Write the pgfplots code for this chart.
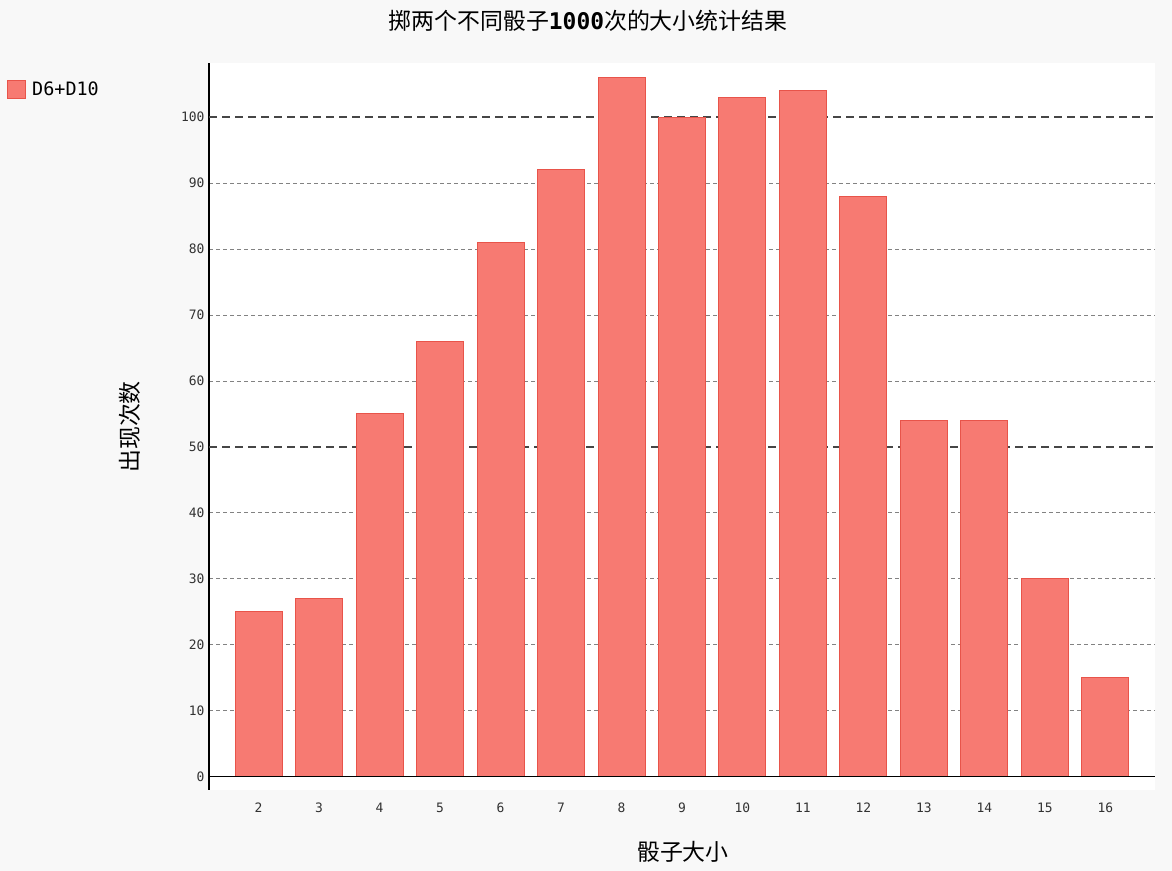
\documentclass[border=0pt]{standalone}
\usepackage{pgfplots}
\pgfplotsset{compat=1.18}
\usepackage{fontspec}
\newfontfamily\cjk{Noto Sans CJK SC}
\newfontfamily\mono{DejaVu Sans Mono}

\definecolor{bg}{RGB}{248,248,248}
\definecolor{barfill}{RGB}{247,122,114}
\definecolor{barline}{RGB}{232,84,74}
\definecolor{majgrid}{RGB}{70,70,70}
\definecolor{mingrid}{RGB}{130,130,130}
\definecolor{ticktext}{RGB}{50,50,50}

\begin{document}
\begin{tikzpicture}[x=1bp,y=1bp]
\fill[bg] (0,0) rectangle (1172,871);
\useasboundingbox (0,0) rectangle (1172,871);
\begin{axis}[
  at={(209bp,81bp)}, anchor=south west,
  scale only axis, width=946bp, height=727bp,
  xmin=1.18, xmax=16.82, ymin=-2, ymax=108.2,
  axis background/.style={fill=white},
  axis lines*=left,
  x axis line style={draw=none},
  y axis line style={black, line width=1.2bp, -},
  major tick length=0pt,
  xtick={2,...,16},
  ytick={0,10,20,30,40,60,70,80,90},
  extra y ticks={50,100},
  extra y tick style={grid=none},
  /pgf/number format/assume math mode=true,
  xticklabel style={font=\mono\fontsize{13}{15}\selectfont, text=ticktext,
    anchor=center, text height=9.5bp, text depth=0bp, yshift=-18bp},
  yticklabel style={font=\mono\fontsize{13}{15}\selectfont, text=ticktext, xshift=-1bp},
  ymajorgrids,
  major grid style={mingrid, line width=0.9bp, dash pattern=on 4bp off 3bp},
  title={{\cjk 掷两个不同骰子}{\mono\bfseries 1000}{\cjk 次的大小统计结果}},
  title style={at={(axis description cs:0.4006,1.0495)}, anchor=center, font=\cjk\fontsize{23}{26}\selectfont},
  xlabel={骰子大小},
  xlabel style={at={(axis description cs:0.501,-0.0853)}, anchor=center, font=\cjk\fontsize{23}{26}\selectfont},
  ylabel={出现次数},
  ylabel style={at={(axis description cs:-0.0835,0.4993)}, anchor=center, font=\cjk\fontsize{23}{26}\selectfont},
  legend style={at={(axis description cs:-0.2135,0.977)}, anchor=north west,
    draw=none, fill=none, inner sep=0pt, font=\mono\fontsize{18.5}{20}\selectfont,
    nodes={inner xsep=6bp}},
  legend cell align=left,
]
\addplot[majgrid, line width=1.6bp, dash pattern=on 8bp off 5bp, forget plot]
  coordinates {(1.18,50) (16.82,50)};
\addplot[majgrid, line width=1.6bp, dash pattern=on 8bp off 5bp, forget plot]
  coordinates {(1.18,100) (16.82,100)};
\addplot[ybar, bar width=47bp, fill=barfill, draw=barline, line width=1bp,
  legend image code/.code={\fill[barfill, draw=barline] (-3bp,-9bp) rectangle (15bp,9bp);}]
  table {
x y
2 25
3 27
4 55
5 66
6 81
7 92
8 106
9 100
10 103
11 104
12 88
13 54
14 54
15 30
16 15
};
\addlegendentry{D6+D10}
\addplot[black, line width=1.2bp, forget plot] coordinates {(1.18,0) (16.82,0)};
\end{axis}
\end{tikzpicture}
\end{document}
